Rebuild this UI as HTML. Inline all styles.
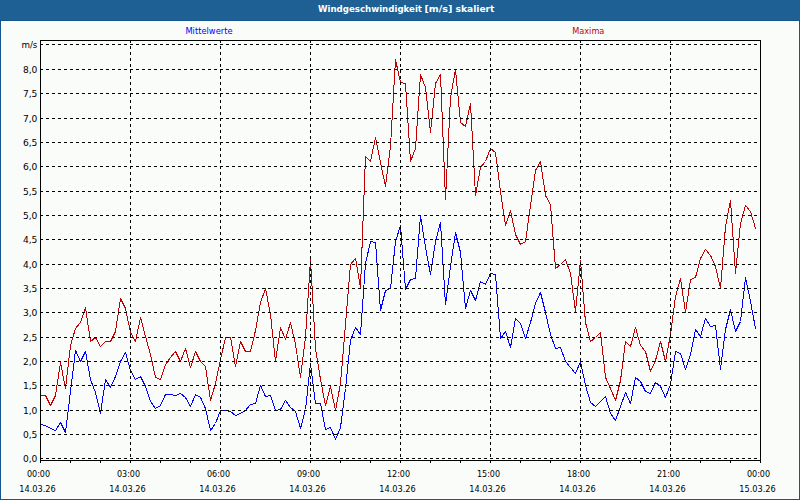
<!DOCTYPE html>
<html><head><meta charset="utf-8"><title>Windgeschwindigkeit</title>
<style>html,body{margin:0;padding:0;width:800px;height:500px;overflow:hidden;background:#13568f}</style>
</head><body>
<svg width="800" height="500" viewBox="0 0 800 500" style="position:absolute;left:0;top:0">
<rect x="0" y="0" width="800" height="500" fill="#13568f"/>
<defs><pattern id="dith" x="0" y="0" width="8" height="4" patternUnits="userSpaceOnUse"><rect width="8" height="4" fill="#1e5f94"/><rect x="1" y="1" width="1" height="1" fill="#2260ac"/><rect x="5" y="1" width="1" height="1" fill="#2260ac"/><rect x="3" y="3" width="1" height="1" fill="#2260ac"/><rect x="7" y="3" width="1" height="1" fill="#2260ac"/></pattern></defs>
<rect x="0" y="0" width="800" height="20" fill="url(#dith)" shape-rendering="crispEdges"/>
<rect x="1" y="21" width="798" height="478" fill="#ffffff"/>
<rect x="2" y="22" width="796" height="476" fill="#fafcfa"/>
<polyline points="40.5,395.5 45.5,395.5 50.5,405.5 55.5,395.5 60.5,362.5 65.5,388.5 70.5,345.5 75.5,328.5 80.5,322.5 85.5,307.5 90.5,341.5 95.5,337.5 100.5,346.5 105.5,341.5 110.5,341.5 115.5,331.5 120.5,298.5 125.5,308.5 130.5,332.5 135.5,341.5 140.5,317.5 145.5,336.5 150.5,354.5 155.5,377.5 160.5,379.5 165.5,364.5 170.5,357.5 175.5,351.5 180.5,361.5 185.5,348.5 190.5,367.5 195.5,351.5 200.5,361.5 205.5,366.5 210.5,400.5 215.5,383.5 220.5,359.5 225.5,337.5 230.5,337.5 235.5,366.5 240.5,341.5 245.5,351.5 250.5,351.5 255.5,330.5 260.5,302.5 265.5,288.5 270.5,314.5 275.5,361.5 280.5,327.5 285.5,339.5 290.5,322.5 295.5,344.5 300.5,377.5 305.5,337.5 310.5,259.5 315.5,348.5 320.5,379.5 325.5,405.5 330.5,386.5 335.5,410.5 340.5,383.5 345.5,324.5 350.5,264.5 355.5,258.5 360.5,287.5 365.5,156.5 370.5,161.5 375.5,137.5 380.5,162.5 385.5,186.5 390.5,146.5 395.5,59.5 400.5,82.5 405.5,83.5 410.5,161.5 415.5,148.5 420.5,74.5 425.5,87.5 430.5,132.5 435.5,83.5 440.5,74.5 445.5,199.5 450.5,97.5 455.5,69.5 460.5,122.5 465.5,126.5 470.5,103.5 475.5,195.5 480.5,167.5 485.5,161.5 490.5,148.5 495.5,152.5 500.5,191.5 505.5,225.5 510.5,210.5 515.5,234.5 520.5,244.5 525.5,241.5 530.5,205.5 535.5,170.5 540.5,161.5 545.5,195.5 550.5,204.5 555.5,268.5 560.5,264.5 565.5,259.5 570.5,273.5 575.5,311.5 580.5,260.5 585.5,322.5 590.5,341.5 595.5,337.5 600.5,332.5 605.5,377.5 610.5,388.5 615.5,400.5 620.5,380.5 625.5,341.5 630.5,346.5 635.5,327.5 640.5,345.5 645.5,351.5 650.5,371.5 655.5,360.5 660.5,341.5 665.5,361.5 670.5,334.5 675.5,296.5 680.5,278.5 685.5,312.5 690.5,279.5 695.5,277.5 700.5,258.5 705.5,249.5 710.5,255.5 715.5,266.5 720.5,288.5 725.5,226.5 730.5,200.5 735.5,273.5 740.5,223.5 745.5,205.5 750.5,211.5 755.5,228.5" fill="none" stroke="#c00000" stroke-width="1" stroke-linejoin="round" stroke-linecap="round" shape-rendering="crispEdges"/>
<polyline points="40.5,424.5 45.5,425.5 50.5,428.5 55.5,430.5 60.5,422.5 65.5,432.5 70.5,391.5 75.5,350.5 80.5,361.5 85.5,351.5 90.5,379.5 95.5,392.5 100.5,413.5 105.5,379.5 110.5,387.5 115.5,376.5 120.5,361.5 125.5,352.5 130.5,370.5 135.5,379.5 140.5,376.5 145.5,386.5 150.5,401.5 155.5,408.5 160.5,405.5 165.5,394.5 170.5,394.5 175.5,395.5 180.5,393.5 185.5,397.5 190.5,406.5 195.5,394.5 200.5,397.5 205.5,408.5 210.5,430.5 215.5,423.5 220.5,410.5 225.5,410.5 230.5,411.5 235.5,415.5 240.5,413.5 245.5,410.5 250.5,404.5 255.5,403.5 260.5,385.5 265.5,396.5 270.5,395.5 275.5,410.5 280.5,409.5 285.5,400.5 290.5,407.5 295.5,411.5 300.5,428.5 305.5,409.5 310.5,363.5 315.5,403.5 320.5,403.5 325.5,429.5 330.5,427.5 335.5,439.5 340.5,427.5 345.5,388.5 350.5,340.5 355.5,327.5 360.5,334.5 365.5,263.5 370.5,241.5 375.5,242.5 380.5,310.5 385.5,290.5 390.5,288.5 395.5,241.5 400.5,225.5 405.5,289.5 410.5,279.5 415.5,278.5 420.5,215.5 425.5,247.5 430.5,274.5 435.5,241.5 440.5,222.5 445.5,304.5 450.5,266.5 455.5,232.5 460.5,252.5 465.5,308.5 470.5,290.5 475.5,300.5 480.5,281.5 485.5,284.5 490.5,273.5 495.5,274.5 500.5,338.5 505.5,331.5 510.5,347.5 515.5,318.5 520.5,323.5 525.5,338.5 530.5,322.5 535.5,303.5 540.5,292.5 545.5,312.5 550.5,334.5 555.5,348.5 560.5,347.5 565.5,361.5 570.5,367.5 575.5,373.5 580.5,361.5 585.5,385.5 590.5,402.5 595.5,406.5 600.5,401.5 605.5,396.5 610.5,413.5 615.5,420.5 620.5,406.5 625.5,392.5 630.5,403.5 635.5,377.5 640.5,381.5 645.5,391.5 650.5,393.5 655.5,382.5 660.5,386.5 665.5,397.5 670.5,384.5 675.5,351.5 680.5,353.5 685.5,369.5 690.5,354.5 695.5,329.5 700.5,336.5 705.5,318.5 710.5,326.5 715.5,325.5 720.5,369.5 725.5,329.5 730.5,309.5 735.5,331.5 740.5,321.5 745.5,277.5 750.5,301.5 755.5,328.5" fill="none" stroke="#0000ff" stroke-width="1" stroke-linejoin="round" stroke-linecap="round" shape-rendering="crispEdges"/>
<g stroke="#000" stroke-width="1" shape-rendering="crispEdges" fill="none">
<line x1="40" y1="458.5" x2="760" y2="458.5" stroke-dasharray="3 3"/>
<line x1="40" y1="434.5" x2="760" y2="434.5" stroke-dasharray="3 3"/>
<line x1="40" y1="410.5" x2="760" y2="410.5" stroke-dasharray="3 3"/>
<line x1="40" y1="385.5" x2="760" y2="385.5" stroke-dasharray="3 3"/>
<line x1="40" y1="361.5" x2="760" y2="361.5" stroke-dasharray="3 3"/>
<line x1="40" y1="337.5" x2="760" y2="337.5" stroke-dasharray="3 3"/>
<line x1="40" y1="312.5" x2="760" y2="312.5" stroke-dasharray="3 3"/>
<line x1="40" y1="288.5" x2="760" y2="288.5" stroke-dasharray="3 3"/>
<line x1="40" y1="264.5" x2="760" y2="264.5" stroke-dasharray="3 3"/>
<line x1="40" y1="239.5" x2="760" y2="239.5" stroke-dasharray="3 3"/>
<line x1="40" y1="215.5" x2="760" y2="215.5" stroke-dasharray="3 3"/>
<line x1="40" y1="191.5" x2="760" y2="191.5" stroke-dasharray="3 3"/>
<line x1="40" y1="166.5" x2="760" y2="166.5" stroke-dasharray="3 3"/>
<line x1="40" y1="142.5" x2="760" y2="142.5" stroke-dasharray="3 3"/>
<line x1="40" y1="118.5" x2="760" y2="118.5" stroke-dasharray="3 3"/>
<line x1="40" y1="93.5" x2="760" y2="93.5" stroke-dasharray="3 3"/>
<line x1="40" y1="69.5" x2="760" y2="69.5" stroke-dasharray="3 3"/>
<line x1="40" y1="44.5" x2="760" y2="44.5" stroke-dasharray="3 3"/>
<line x1="130.5" y1="40" x2="130.5" y2="460" stroke-dasharray="3 3"/>
<line x1="220.5" y1="40" x2="220.5" y2="460" stroke-dasharray="3 3"/>
<line x1="310.5" y1="40" x2="310.5" y2="460" stroke-dasharray="3 3"/>
<line x1="400.5" y1="40" x2="400.5" y2="460" stroke-dasharray="3 3"/>
<line x1="490.5" y1="40" x2="490.5" y2="460" stroke-dasharray="3 3"/>
<line x1="580.5" y1="40" x2="580.5" y2="460" stroke-dasharray="3 3"/>
<line x1="670.5" y1="40" x2="670.5" y2="460" stroke-dasharray="3 3"/>
<line x1="40.5" y1="40" x2="40.5" y2="463"/>
<line x1="40" y1="40.5" x2="761" y2="40.5"/>
<line x1="760.5" y1="40" x2="760.5" y2="461"/>
<line x1="40" y1="460.5" x2="761" y2="460.5"/>
<line x1="40.5" y1="461" x2="40.5" y2="463"/>
<line x1="70.5" y1="461" x2="70.5" y2="463"/>
<line x1="100.5" y1="461" x2="100.5" y2="463"/>
<line x1="130.5" y1="461" x2="130.5" y2="463"/>
<line x1="160.5" y1="461" x2="160.5" y2="463"/>
<line x1="190.5" y1="461" x2="190.5" y2="463"/>
<line x1="220.5" y1="461" x2="220.5" y2="463"/>
<line x1="250.5" y1="461" x2="250.5" y2="463"/>
<line x1="280.5" y1="461" x2="280.5" y2="463"/>
<line x1="310.5" y1="461" x2="310.5" y2="463"/>
<line x1="340.5" y1="461" x2="340.5" y2="463"/>
<line x1="370.5" y1="461" x2="370.5" y2="463"/>
<line x1="400.5" y1="461" x2="400.5" y2="463"/>
<line x1="430.5" y1="461" x2="430.5" y2="463"/>
<line x1="460.5" y1="461" x2="460.5" y2="463"/>
<line x1="490.5" y1="461" x2="490.5" y2="463"/>
<line x1="520.5" y1="461" x2="520.5" y2="463"/>
<line x1="550.5" y1="461" x2="550.5" y2="463"/>
<line x1="580.5" y1="461" x2="580.5" y2="463"/>
<line x1="610.5" y1="461" x2="610.5" y2="463"/>
<line x1="640.5" y1="461" x2="640.5" y2="463"/>
<line x1="670.5" y1="461" x2="670.5" y2="463"/>
<line x1="700.5" y1="461" x2="700.5" y2="463"/>
<line x1="730.5" y1="461" x2="730.5" y2="463"/>
<line x1="760.5" y1="461" x2="760.5" y2="463"/>
</g>
<text y="12" font-family="'DejaVu Sans', sans-serif" font-size="9.5" font-weight="bold" fill="#ffffff"><tspan x="318.0" textLength="104.0" lengthAdjust="spacingAndGlyphs">Windgeschwindigkeit</tspan> <tspan x="424.5" textLength="27.8" lengthAdjust="spacingAndGlyphs">[m/s]</tspan> <tspan x="455.5" textLength="39.0" lengthAdjust="spacingAndGlyphs">skaliert</tspan></text>
<text x="209" y="34" font-family="'DejaVu Sans', sans-serif" font-size="9.5" fill="#0000ff" text-anchor="middle" textLength="47.2" lengthAdjust="spacingAndGlyphs">Mittelwerte</text>
<text x="588.3" y="34" font-family="'DejaVu Sans', sans-serif" font-size="9.5" fill="#c00000" text-anchor="middle" textLength="32.2" lengthAdjust="spacingAndGlyphs">Maxima</text>
<text x="37.4" y="48" font-family="'DejaVu Sans', sans-serif" font-size="9.5" fill="#000" text-anchor="end" textLength="16.0" lengthAdjust="spacingAndGlyphs">m/s</text>
<text x="37.4" y="462" font-family="'DejaVu Sans', sans-serif" font-size="9.5" fill="#000" text-anchor="end" textLength="14.5" lengthAdjust="spacingAndGlyphs">0,0</text>
<text x="37.4" y="438" font-family="'DejaVu Sans', sans-serif" font-size="9.5" fill="#000" text-anchor="end" textLength="14.5" lengthAdjust="spacingAndGlyphs">0,5</text>
<text x="37.4" y="414" font-family="'DejaVu Sans', sans-serif" font-size="9.5" fill="#000" text-anchor="end" textLength="14.5" lengthAdjust="spacingAndGlyphs">1,0</text>
<text x="37.4" y="389" font-family="'DejaVu Sans', sans-serif" font-size="9.5" fill="#000" text-anchor="end" textLength="14.5" lengthAdjust="spacingAndGlyphs">1,5</text>
<text x="37.4" y="365" font-family="'DejaVu Sans', sans-serif" font-size="9.5" fill="#000" text-anchor="end" textLength="14.5" lengthAdjust="spacingAndGlyphs">2,0</text>
<text x="37.4" y="341" font-family="'DejaVu Sans', sans-serif" font-size="9.5" fill="#000" text-anchor="end" textLength="14.5" lengthAdjust="spacingAndGlyphs">2,5</text>
<text x="37.4" y="316" font-family="'DejaVu Sans', sans-serif" font-size="9.5" fill="#000" text-anchor="end" textLength="14.5" lengthAdjust="spacingAndGlyphs">3,0</text>
<text x="37.4" y="292" font-family="'DejaVu Sans', sans-serif" font-size="9.5" fill="#000" text-anchor="end" textLength="14.5" lengthAdjust="spacingAndGlyphs">3,5</text>
<text x="37.4" y="268" font-family="'DejaVu Sans', sans-serif" font-size="9.5" fill="#000" text-anchor="end" textLength="14.5" lengthAdjust="spacingAndGlyphs">4,0</text>
<text x="37.4" y="243" font-family="'DejaVu Sans', sans-serif" font-size="9.5" fill="#000" text-anchor="end" textLength="14.5" lengthAdjust="spacingAndGlyphs">4,5</text>
<text x="37.4" y="219" font-family="'DejaVu Sans', sans-serif" font-size="9.5" fill="#000" text-anchor="end" textLength="14.5" lengthAdjust="spacingAndGlyphs">5,0</text>
<text x="37.4" y="195" font-family="'DejaVu Sans', sans-serif" font-size="9.5" fill="#000" text-anchor="end" textLength="14.5" lengthAdjust="spacingAndGlyphs">5,5</text>
<text x="37.4" y="170" font-family="'DejaVu Sans', sans-serif" font-size="9.5" fill="#000" text-anchor="end" textLength="14.5" lengthAdjust="spacingAndGlyphs">6,0</text>
<text x="37.4" y="146" font-family="'DejaVu Sans', sans-serif" font-size="9.5" fill="#000" text-anchor="end" textLength="14.5" lengthAdjust="spacingAndGlyphs">6,5</text>
<text x="37.4" y="122" font-family="'DejaVu Sans', sans-serif" font-size="9.5" fill="#000" text-anchor="end" textLength="14.5" lengthAdjust="spacingAndGlyphs">7,0</text>
<text x="37.4" y="97" font-family="'DejaVu Sans', sans-serif" font-size="9.5" fill="#000" text-anchor="end" textLength="14.5" lengthAdjust="spacingAndGlyphs">7,5</text>
<text x="37.4" y="73" font-family="'DejaVu Sans', sans-serif" font-size="9.5" fill="#000" text-anchor="end" textLength="14.5" lengthAdjust="spacingAndGlyphs">8,0</text>
<text x="38.5" y="477" font-family="'DejaVu Sans', sans-serif" font-size="9.5" fill="#000" text-anchor="middle" textLength="23.2" lengthAdjust="spacingAndGlyphs">00:00</text>
<text x="37.5" y="492" font-family="'DejaVu Sans', sans-serif" font-size="9.5" fill="#000" text-anchor="middle" textLength="36.4" lengthAdjust="spacingAndGlyphs">14.03.26</text>
<text x="128.5" y="477" font-family="'DejaVu Sans', sans-serif" font-size="9.5" fill="#000" text-anchor="middle" textLength="23.2" lengthAdjust="spacingAndGlyphs">03:00</text>
<text x="127.5" y="492" font-family="'DejaVu Sans', sans-serif" font-size="9.5" fill="#000" text-anchor="middle" textLength="36.4" lengthAdjust="spacingAndGlyphs">14.03.26</text>
<text x="218.5" y="477" font-family="'DejaVu Sans', sans-serif" font-size="9.5" fill="#000" text-anchor="middle" textLength="23.2" lengthAdjust="spacingAndGlyphs">06:00</text>
<text x="217.5" y="492" font-family="'DejaVu Sans', sans-serif" font-size="9.5" fill="#000" text-anchor="middle" textLength="36.4" lengthAdjust="spacingAndGlyphs">14.03.26</text>
<text x="308.5" y="477" font-family="'DejaVu Sans', sans-serif" font-size="9.5" fill="#000" text-anchor="middle" textLength="23.2" lengthAdjust="spacingAndGlyphs">09:00</text>
<text x="307.5" y="492" font-family="'DejaVu Sans', sans-serif" font-size="9.5" fill="#000" text-anchor="middle" textLength="36.4" lengthAdjust="spacingAndGlyphs">14.03.26</text>
<text x="398.5" y="477" font-family="'DejaVu Sans', sans-serif" font-size="9.5" fill="#000" text-anchor="middle" textLength="23.2" lengthAdjust="spacingAndGlyphs">12:00</text>
<text x="397.5" y="492" font-family="'DejaVu Sans', sans-serif" font-size="9.5" fill="#000" text-anchor="middle" textLength="36.4" lengthAdjust="spacingAndGlyphs">14.03.26</text>
<text x="488.5" y="477" font-family="'DejaVu Sans', sans-serif" font-size="9.5" fill="#000" text-anchor="middle" textLength="23.2" lengthAdjust="spacingAndGlyphs">15:00</text>
<text x="487.5" y="492" font-family="'DejaVu Sans', sans-serif" font-size="9.5" fill="#000" text-anchor="middle" textLength="36.4" lengthAdjust="spacingAndGlyphs">14.03.26</text>
<text x="578.5" y="477" font-family="'DejaVu Sans', sans-serif" font-size="9.5" fill="#000" text-anchor="middle" textLength="23.2" lengthAdjust="spacingAndGlyphs">18:00</text>
<text x="577.5" y="492" font-family="'DejaVu Sans', sans-serif" font-size="9.5" fill="#000" text-anchor="middle" textLength="36.4" lengthAdjust="spacingAndGlyphs">14.03.26</text>
<text x="668.5" y="477" font-family="'DejaVu Sans', sans-serif" font-size="9.5" fill="#000" text-anchor="middle" textLength="23.2" lengthAdjust="spacingAndGlyphs">21:00</text>
<text x="667.5" y="492" font-family="'DejaVu Sans', sans-serif" font-size="9.5" fill="#000" text-anchor="middle" textLength="36.4" lengthAdjust="spacingAndGlyphs">14.03.26</text>
<text x="758.5" y="477" font-family="'DejaVu Sans', sans-serif" font-size="9.5" fill="#000" text-anchor="middle" textLength="23.2" lengthAdjust="spacingAndGlyphs">00:00</text>
<text x="757.5" y="492" font-family="'DejaVu Sans', sans-serif" font-size="9.5" fill="#000" text-anchor="middle" textLength="36.4" lengthAdjust="spacingAndGlyphs">15.03.26</text>
</svg>
</body></html>
